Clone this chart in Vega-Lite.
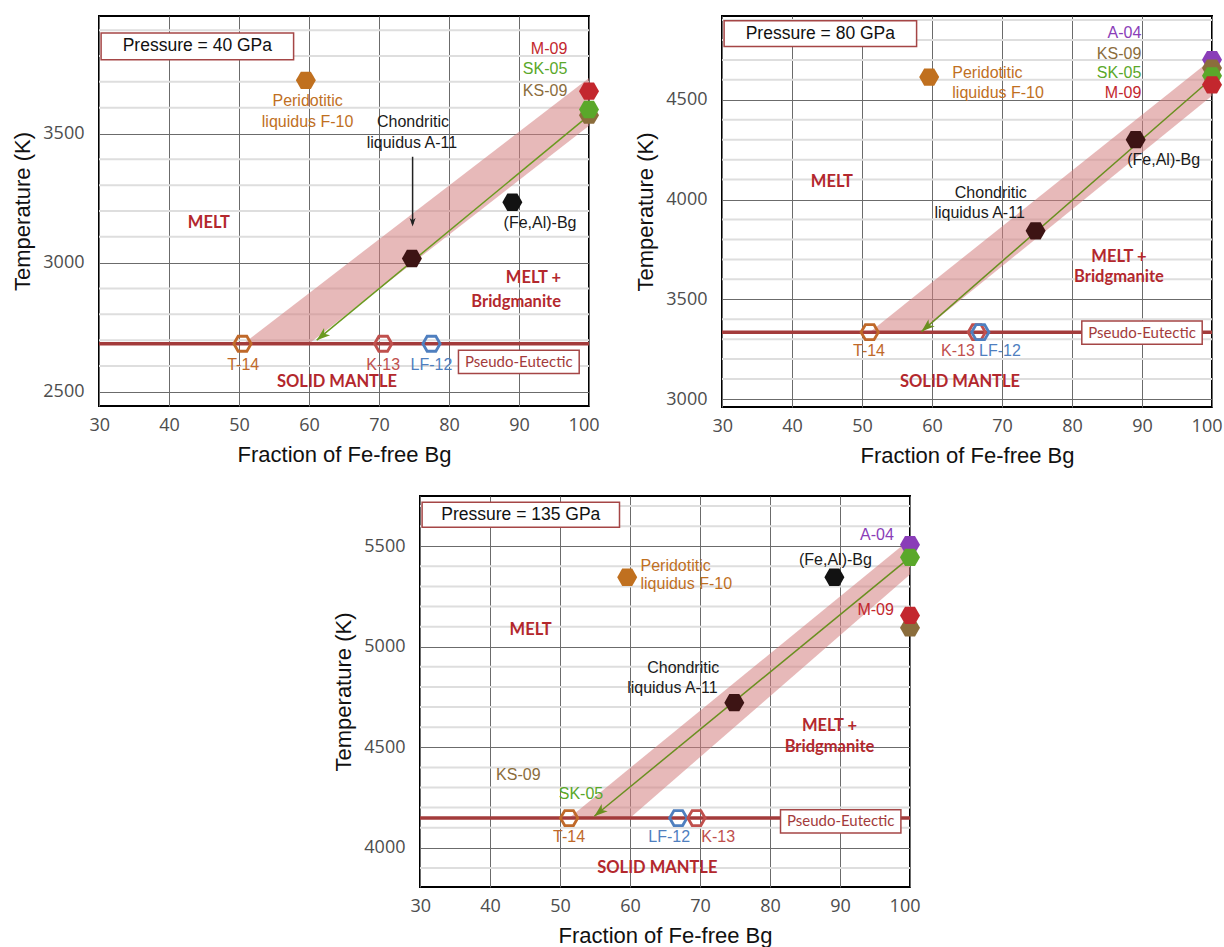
{
  "$schema": "https://vega.github.io/schema/vega-lite/v6.json",
  "background": "white",
  "padding": {"left": 10, "top": 15, "right": 0, "bottom": 0},
  "config": {
    "view": {"stroke": "#000000", "strokeWidth": 2},
    "axis": {"domain": false, "ticks": false, "grid": true, "gridColor": "#6b6b6b", "gridWidth": 1, "labelFont": "Open Sans", "labelFontSize": 18, "labelColor": "#4d4d4d", "titleFont": "Liberation Sans", "titleFontSize": 22, "titleFontWeight": "normal", "titleColor": "#111111", "format": "d"},
    "axisX": {"labelPadding": 10, "titlePadding": 10, "labelFlush": true, "labelFlushOffset": 10},
    "axisY": {"labelPadding": 15, "titlePadding": 8},
    "text": {"font": "Liberation Sans"}
  },
  "spacing": 28,
  "vconcat": [
    {
      "spacing": 33,
      "hconcat": [
        {
          "width": 490, "height": 390,
          "encoding": {
            "x": {"field": "x", "type": "quantitative", "scale": {"domain": [30, 100], "nice": false, "zero": false}, "axis": {"values": [30, 40, 50, 60, 70, 80, 90, 100], "title": "Fraction of Fe-free Bg"}},
            "y": {"field": "t", "type": "quantitative", "scale": {"domain": [2445, 3955], "nice": false, "zero": false}, "axis": {"values": [2500, 3000, 3500], "title": "Temperature (K)"}}
          },
          "layer": [
            {"data": {"values": [{"t": 2600, "x": 30, "x2": 100}, {"t": 2700, "x": 30, "x2": 100}, {"t": 2800, "x": 30, "x2": 100}, {"t": 2900, "x": 30, "x2": 100}, {"t": 3100, "x": 30, "x2": 100}, {"t": 3200, "x": 30, "x2": 100}, {"t": 3300, "x": 30, "x2": 100}, {"t": 3400, "x": 30, "x2": 100}, {"t": 3600, "x": 30, "x2": 100}, {"t": 3700, "x": 30, "x2": 100}, {"t": 3800, "x": 30, "x2": 100}, {"t": 3900, "x": 30, "x2": 100}]},
             "mark": {"type": "rule", "color": "#dedede", "strokeWidth": 2},
             "encoding": {"x2": {"field": "x2"}}},
            {"data": {"values": [{"x": 50.6, "t": 2686, "t2": 2686}, {"x": 60, "t": 2882, "t2": 2686}, {"x": 100, "t": 3715, "t2": 3530}]},
             "mark": {"type": "area", "color": "#d47f7f", "opacity": 0.55},
             "encoding": {"y2": {"field": "t2"}}},
            {"data": {"values": [{"t": 2686, "x": 30, "x2": 100}]},
             "mark": {"type": "rule", "color": "#a33b3b", "strokeWidth": 3.6},
             "encoding": {"x2": {"field": "x2"}}},
            {"data": {"values": [{"x": 100, "t": 3570}, {"x": 61.1, "t": 2700}]},
             "mark": {"type": "line", "color": "#6a9a20", "strokeWidth": 1.5}},
            {"data": {"values": [{"x": 61.1, "t": 2700}]},
             "mark": {"type": "point", "shape": "M0,0L-0.6,1.7L0,1.25L0.6,1.7Z", "filled": true, "color": "#6a9a20", "opacity": 1, "size": 250, "angle": 230.5}},
            {"data": {"values": [{"x": 74.8, "t": 3410, "t2": 3150}]},
             "mark": {"type": "rule", "color": "#222222", "strokeWidth": 1.5},
             "encoding": {"y2": {"field": "t2"}}},
            {"data": {"values": [{"x": 74.8, "t": 3140}]},
             "mark": {"type": "point", "shape": "M0,0L-0.6,1.7L0,1.25L0.6,1.7Z", "filled": true, "color": "#222222", "opacity": 1, "size": 100, "angle": 180}},
            {"data": {"values": [{"x": 59.55, "t": 3706, "src": "F-10"}, {"x": 74.7, "t": 3016, "src": "A-11"}, {"x": 89.05, "t": 3234, "src": "FeAl"}, {"x": 100, "t": 3571, "src": "KS-09"}, {"x": 100, "t": 3593, "src": "SK-05"}, {"x": 100, "t": 3664, "src": "M-09"}]},
             "mark": {"type": "point", "shape": "M-1,0L-0.5,-0.866L0.5,-0.866L1,0L0.5,0.866L-0.5,0.866Z", "filled": true, "opacity": 1, "size": 400},
             "encoding": {"color": {"field": "src", "type": "nominal", "legend": null, "scale": {"domain": ["F-10", "A-11", "FeAl", "M-09", "SK-05", "KS-09", "A-04", "T-14", "K-13", "LF-12", "black"], "range": ["#c0701f", "#3d1414", "#121212", "#c3272e", "#5aa82a", "#8b6d3c", "#8a3db8", "#c0692a", "#c0504d", "#4f7fbf", "#1a1a1a"]}}}},
            {"data": {"values": [{"x": 50.5, "t": 2686, "src": "T-14"}, {"x": 70.6, "t": 2686, "src": "K-13"}, {"x": 77.5, "t": 2686, "src": "LF-12"}]},
             "mark": {"type": "point", "shape": "M-1,0L-0.5,-0.866L0.5,-0.866L1,0L0.5,0.866L-0.5,0.866Z", "filled": false, "opacity": 1, "size": 300, "strokeWidth": 2.8},
             "encoding": {"color": {"field": "src", "type": "nominal", "legend": null, "scale": {"domain": ["F-10", "A-11", "FeAl", "M-09", "SK-05", "KS-09", "A-04", "T-14", "K-13", "LF-12", "black"], "range": ["#c0701f", "#3d1414", "#121212", "#c3272e", "#5aa82a", "#8b6d3c", "#8a3db8", "#c0692a", "#c0504d", "#4f7fbf", "#1a1a1a"]}}}},
            {"data": {"values": [{"x": 50.6, "t": 2605, "label": "T-14", "src": "T-14"}, {"x": 70.6, "t": 2605, "label": "K-13", "src": "K-13"}, {"x": 77.5, "t": 2605, "label": "LF-12", "src": "LF-12"}, {"x": 59.8, "t": 3626, "label": "Peridotitic", "src": "F-10"}, {"x": 59.8, "t": 3545, "label": "liquidus F-10", "src": "F-10"}, {"x": 74.85, "t": 3545, "label": "Chondritic", "src": "black"}, {"x": 74.7, "t": 3464, "label": "liquidus A-11", "src": "black"}, {"x": 93.0, "t": 3152, "label": "(Fe,Al)-Bg", "src": "black"}]},
             "mark": {"type": "text", "fontSize": 16, "align": "center", "baseline": "middle"},
             "encoding": {"text": {"field": "label"}, "color": {"field": "src", "type": "nominal", "legend": null, "scale": {"domain": ["F-10", "A-11", "FeAl", "M-09", "SK-05", "KS-09", "A-04", "T-14", "K-13", "LF-12", "black"], "range": ["#c0701f", "#3d1414", "#121212", "#c3272e", "#5aa82a", "#8b6d3c", "#8a3db8", "#c0692a", "#c0504d", "#4f7fbf", "#1a1a1a"]}}}},
            {"data": {"values": [{"x": 96.9, "t": 3829, "label": "M-09", "src": "M-09"}, {"x": 96.9, "t": 3748, "label": "SK-05", "src": "SK-05"}, {"x": 96.9, "t": 3664, "label": "KS-09", "src": "KS-09"}]},
             "mark": {"type": "text", "fontSize": 16, "align": "right", "baseline": "middle"},
             "encoding": {"text": {"field": "label"}, "color": {"field": "src", "type": "nominal", "legend": null, "scale": {"domain": ["F-10", "A-11", "FeAl", "M-09", "SK-05", "KS-09", "A-04", "T-14", "K-13", "LF-12", "black"], "range": ["#c0701f", "#3d1414", "#121212", "#c3272e", "#5aa82a", "#8b6d3c", "#8a3db8", "#c0692a", "#c0504d", "#4f7fbf", "#1a1a1a"]}}}},
            {"data": {"values": [{"x": 45.7, "t": 3152, "label": "MELT"}, {"x": 64.0, "t": 2538, "label": "SOLID MANTLE"}]},
             "mark": {"type": "text", "font": "Lato", "fontWeight": "bold", "fontSize": 16.5, "color": "#b3282d", "align": "center", "baseline": "middle"},
             "encoding": {"text": {"field": "label"}}},
            {"data": {"values": [{"x": 96.0, "t": 2939, "label": "MELT +"}, {"x": 96.0, "t": 2848, "label": "Bridgmanite"}]},
             "mark": {"type": "text", "font": "Lato", "fontWeight": "bold", "fontSize": 16.5, "color": "#b3282d", "align": "right", "baseline": "middle"},
             "encoding": {"text": {"field": "label"}}},
            {"data": {"values": [{"x": 30.3, "x2": 57.8, "t": 3889, "t2": 3786}]},
             "mark": {"type": "rect", "fill": "white", "stroke": "#a54646", "strokeWidth": 1.5},
             "encoding": {"x2": {"field": "x2"}, "y2": {"field": "t2"}}},
            {"data": {"values": [{"x": 81.35, "x2": 98.6, "t": 2661, "t2": 2571}]},
             "mark": {"type": "rect", "fill": "white", "stroke": "#a54646", "strokeWidth": 1.5},
             "encoding": {"x2": {"field": "x2"}, "y2": {"field": "t2"}}},
            {"data": {"values": [{"x": 44.05, "t": 3837, "label": "Pressure = 40 GPa"}]},
             "mark": {"type": "text", "fontSize": 17.5, "color": "#111111", "align": "center", "baseline": "middle"},
             "encoding": {"text": {"field": "label"}}},
            {"data": {"values": [{"x": 89.97, "t": 2616, "label": "Pseudo-Eutectic"}]},
             "mark": {"type": "text", "font": "Lato", "fontSize": 15, "color": "#a33b3b", "align": "center", "baseline": "middle"},
             "encoding": {"text": {"field": "label"}}}
          ]
        },
        {
          "width": 490, "height": 391,
          "encoding": {
            "x": {"field": "x", "type": "quantitative", "scale": {"domain": [30, 100], "nice": false, "zero": false}, "axis": {"values": [30, 40, 50, 60, 70, 80, 90, 100], "title": "Fraction of Fe-free Bg"}},
            "y": {"field": "t", "type": "quantitative", "scale": {"domain": [2960, 4920], "nice": false, "zero": false}, "axis": {"values": [3000, 3500, 4000, 4500], "title": "Temperature (K)"}}
          },
          "layer": [
            {"data": {"values": [{"t": 3100, "x": 30, "x2": 100}, {"t": 3200, "x": 30, "x2": 100}, {"t": 3300, "x": 30, "x2": 100}, {"t": 3400, "x": 30, "x2": 100}, {"t": 3600, "x": 30, "x2": 100}, {"t": 3700, "x": 30, "x2": 100}, {"t": 3800, "x": 30, "x2": 100}, {"t": 3900, "x": 30, "x2": 100}, {"t": 4100, "x": 30, "x2": 100}, {"t": 4200, "x": 30, "x2": 100}, {"t": 4300, "x": 30, "x2": 100}, {"t": 4400, "x": 30, "x2": 100}, {"t": 4600, "x": 30, "x2": 100}, {"t": 4700, "x": 30, "x2": 100}, {"t": 4800, "x": 30, "x2": 100}, {"t": 4900, "x": 30, "x2": 100}]},
             "mark": {"type": "rule", "color": "#dedede", "strokeWidth": 2},
             "encoding": {"x2": {"field": "x2"}}},
            {"data": {"values": [{"x": 51.1, "t": 3335, "t2": 3335}, {"x": 58.4, "t": 3540, "t2": 3335}, {"x": 100, "t": 4705, "t2": 4520}]},
             "mark": {"type": "area", "color": "#d47f7f", "opacity": 0.55},
             "encoding": {"y2": {"field": "t2"}}},
            {"data": {"values": [{"t": 3335, "x": 30, "x2": 100}]},
             "mark": {"type": "rule", "color": "#a33b3b", "strokeWidth": 3.6},
             "encoding": {"x2": {"field": "x2"}}},
            {"data": {"values": [{"x": 100, "t": 4608}, {"x": 58.5, "t": 3338}]},
             "mark": {"type": "line", "color": "#6a8f20", "strokeWidth": 1.5}},
            {"data": {"values": [{"x": 58.5, "t": 3338}]},
             "mark": {"type": "point", "shape": "M0,0L-0.6,1.7L0,1.25L0.6,1.7Z", "filled": true, "color": "#6a8f20", "opacity": 1, "size": 250, "angle": 228.9}},
            {"data": {"values": [{"x": 59.6, "t": 4614, "src": "F-10"}, {"x": 74.8, "t": 3843, "src": "A-11"}, {"x": 89.1, "t": 4300, "src": "A-11"}, {"x": 100, "t": 4701, "src": "A-04"}, {"x": 100, "t": 4659, "src": "KS-09"}, {"x": 100, "t": 4620, "src": "SK-05"}, {"x": 100, "t": 4575, "src": "M-09"}]},
             "mark": {"type": "point", "shape": "M-1,0L-0.5,-0.866L0.5,-0.866L1,0L0.5,0.866L-0.5,0.866Z", "filled": true, "opacity": 1, "size": 400},
             "encoding": {"color": {"field": "src", "type": "nominal", "legend": null, "scale": {"domain": ["F-10", "A-11", "FeAl", "M-09", "SK-05", "KS-09", "A-04", "T-14", "K-13", "LF-12", "black"], "range": ["#c0701f", "#3d1414", "#121212", "#c3272e", "#5aa82a", "#8b6d3c", "#8a3db8", "#c0692a", "#c0504d", "#4f7fbf", "#1a1a1a"]}}}},
            {"data": {"values": [{"x": 51.1, "t": 3335, "src": "T-14"}, {"x": 66.4, "t": 3335, "src": "K-13"}, {"x": 66.9, "t": 3335, "src": "LF-12"}]},
             "mark": {"type": "point", "shape": "M-1,0L-0.5,-0.866L0.5,-0.866L1,0L0.5,0.866L-0.5,0.866Z", "filled": false, "opacity": 1, "size": 300, "strokeWidth": 2.8},
             "encoding": {"color": {"field": "src", "type": "nominal", "legend": null, "scale": {"domain": ["F-10", "A-11", "FeAl", "M-09", "SK-05", "KS-09", "A-04", "T-14", "K-13", "LF-12", "black"], "range": ["#c0701f", "#3d1414", "#121212", "#c3272e", "#5aa82a", "#8b6d3c", "#8a3db8", "#c0692a", "#c0504d", "#4f7fbf", "#1a1a1a"]}}}},
            {"data": {"values": [{"x": 51.0, "t": 3242, "label": "T-14", "src": "T-14"}, {"x": 63.7, "t": 3242, "label": "K-13", "src": "K-13"}, {"x": 69.7, "t": 3242, "label": "LF-12", "src": "LF-12"}, {"x": 68.4, "t": 4032, "label": "Chondritic", "src": "black"}, {"x": 66.8, "t": 3934, "label": "liquidus A-11", "src": "black"}, {"x": 93.1, "t": 4199, "label": "(Fe,Al)-Bg", "src": "black"}]},
             "mark": {"type": "text", "fontSize": 16, "align": "center", "baseline": "middle"},
             "encoding": {"text": {"field": "label"}, "color": {"field": "src", "type": "nominal", "legend": null, "scale": {"domain": ["F-10", "A-11", "FeAl", "M-09", "SK-05", "KS-09", "A-04", "T-14", "K-13", "LF-12", "black"], "range": ["#c0701f", "#3d1414", "#121212", "#c3272e", "#5aa82a", "#8b6d3c", "#8a3db8", "#c0692a", "#c0504d", "#4f7fbf", "#1a1a1a"]}}}},
            {"data": {"values": [{"x": 89.9, "t": 4834, "label": "A-04", "src": "A-04"}, {"x": 89.9, "t": 4728, "label": "KS-09", "src": "KS-09"}, {"x": 89.9, "t": 4634, "label": "SK-05", "src": "SK-05"}, {"x": 89.9, "t": 4534, "label": "M-09", "src": "M-09"}]},
             "mark": {"type": "text", "fontSize": 16, "align": "right", "baseline": "middle"},
             "encoding": {"text": {"field": "label"}, "color": {"field": "src", "type": "nominal", "legend": null, "scale": {"domain": ["F-10", "A-11", "FeAl", "M-09", "SK-05", "KS-09", "A-04", "T-14", "K-13", "LF-12", "black"], "range": ["#c0701f", "#3d1414", "#121212", "#c3272e", "#5aa82a", "#8b6d3c", "#8a3db8", "#c0692a", "#c0504d", "#4f7fbf", "#1a1a1a"]}}}},
            {"data": {"values": [{"x": 62.9, "t": 4634, "label": "Peridotitic", "src": "F-10"}, {"x": 62.9, "t": 4534, "label": "liquidus F-10", "src": "F-10"}]},
             "mark": {"type": "text", "fontSize": 16, "align": "left", "baseline": "middle"},
             "encoding": {"text": {"field": "label"}, "color": {"field": "src", "type": "nominal", "legend": null, "scale": {"domain": ["F-10", "A-11", "FeAl", "M-09", "SK-05", "KS-09", "A-04", "T-14", "K-13", "LF-12", "black"], "range": ["#c0701f", "#3d1414", "#121212", "#c3272e", "#5aa82a", "#8b6d3c", "#8a3db8", "#c0692a", "#c0504d", "#4f7fbf", "#1a1a1a"]}}}},
            {"data": {"values": [{"x": 45.7, "t": 4087, "label": "MELT"}, {"x": 86.7, "t": 3714, "label": "MELT +"}, {"x": 86.7, "t": 3610, "label": "Bridgmanite"}, {"x": 64.0, "t": 3084, "label": "SOLID MANTLE"}]},
             "mark": {"type": "text", "font": "Lato", "fontWeight": "bold", "fontSize": 16.5, "color": "#b3282d", "align": "center", "baseline": "middle"},
             "encoding": {"text": {"field": "label"}}},
            {"data": {"values": [{"x": 30.3, "x2": 57.8, "t": 4896, "t2": 4767}]},
             "mark": {"type": "rect", "fill": "white", "stroke": "#a54646", "strokeWidth": 1.5},
             "encoding": {"x2": {"field": "x2"}, "y2": {"field": "t2"}}},
            {"data": {"values": [{"x": 81.4, "x2": 98.6, "t": 3391, "t2": 3274}]},
             "mark": {"type": "rect", "fill": "white", "stroke": "#a54646", "strokeWidth": 1.5},
             "encoding": {"x2": {"field": "x2"}, "y2": {"field": "t2"}}},
            {"data": {"values": [{"x": 44.05, "t": 4831, "label": "Pressure = 80 GPa"}]},
             "mark": {"type": "text", "fontSize": 17.5, "color": "#111111", "align": "center", "baseline": "middle"},
             "encoding": {"text": {"field": "label"}}},
            {"data": {"values": [{"x": 90.0, "t": 3332, "label": "Pseudo-Eutectic"}]},
             "mark": {"type": "text", "font": "Lato", "fontSize": 15, "color": "#a33b3b", "align": "center", "baseline": "middle"},
             "encoding": {"text": {"field": "label"}}}
          ]
        }
      ]
    },
    {
      "spacing": 0,
      "hconcat": [
        {
          "width": 232, "height": 10,
          "view": {"stroke": null},
          "data": {"values": [{"note": ""}]},
          "mark": {"type": "text", "text": ""},
          "encoding": {}
        },
        {
          "width": 490, "height": 391,
          "encoding": {
            "x": {"field": "x", "type": "quantitative", "scale": {"domain": [30, 100], "nice": false, "zero": false}, "axis": {"values": [30, 40, 50, 60, 70, 80, 90, 100], "title": "Fraction of Fe-free Bg"}},
            "y": {"field": "t", "type": "quantitative", "scale": {"domain": [3805, 5750], "nice": false, "zero": false}, "axis": {"values": [4000, 4500, 5000, 5500], "title": "Temperature (K)"}}
          },
          "layer": [
            {"data": {"values": [{"t": 3900, "x": 30, "x2": 100}, {"t": 4100, "x": 30, "x2": 100}, {"t": 4200, "x": 30, "x2": 100}, {"t": 4300, "x": 30, "x2": 100}, {"t": 4400, "x": 30, "x2": 100}, {"t": 4600, "x": 30, "x2": 100}, {"t": 4700, "x": 30, "x2": 100}, {"t": 4800, "x": 30, "x2": 100}, {"t": 4900, "x": 30, "x2": 100}, {"t": 5100, "x": 30, "x2": 100}, {"t": 5200, "x": 30, "x2": 100}, {"t": 5300, "x": 30, "x2": 100}, {"t": 5400, "x": 30, "x2": 100}, {"t": 5600, "x": 30, "x2": 100}, {"t": 5700, "x": 30, "x2": 100}]},
             "mark": {"type": "rule", "color": "#dedede", "strokeWidth": 2},
             "encoding": {"x2": {"field": "x2"}}},
            {"data": {"values": [{"x": 51.3, "t": 4148, "t2": 4148}, {"x": 60, "t": 4397, "t2": 4148}, {"x": 100, "t": 5535, "t2": 5360}]},
             "mark": {"type": "area", "color": "#d47f7f", "opacity": 0.55},
             "encoding": {"y2": {"field": "t2"}}},
            {"data": {"values": [{"t": 4148, "x": 30, "x2": 100}]},
             "mark": {"type": "rule", "color": "#a33b3b", "strokeWidth": 3.6},
             "encoding": {"x2": {"field": "x2"}}},
            {"data": {"values": [{"x": 100, "t": 5445}, {"x": 54.9, "t": 4157}]},
             "mark": {"type": "line", "color": "#6a8f20", "strokeWidth": 1.5}},
            {"data": {"values": [{"x": 54.9, "t": 4157}]},
             "mark": {"type": "point", "shape": "M0,0L-0.6,1.7L0,1.25L0.6,1.7Z", "filled": true, "color": "#6a8f20", "opacity": 1, "size": 250, "angle": 230.6}},
            {"data": {"values": [{"x": 59.6, "t": 5346, "src": "F-10"}, {"x": 89.2, "t": 5346, "src": "FeAl"}, {"x": 74.9, "t": 4722, "src": "A-11"}, {"x": 100, "t": 5508, "src": "A-04"}, {"x": 100, "t": 5445, "src": "SK-05"}, {"x": 100, "t": 5094, "src": "KS-09"}, {"x": 100, "t": 5156, "src": "M-09"}]},
             "mark": {"type": "point", "shape": "M-1,0L-0.5,-0.866L0.5,-0.866L1,0L0.5,0.866L-0.5,0.866Z", "filled": true, "opacity": 1, "size": 400},
             "encoding": {"color": {"field": "src", "type": "nominal", "legend": null, "scale": {"domain": ["F-10", "A-11", "FeAl", "M-09", "SK-05", "KS-09", "A-04", "T-14", "K-13", "LF-12", "black"], "range": ["#c0701f", "#3d1414", "#121212", "#c3272e", "#5aa82a", "#8b6d3c", "#8a3db8", "#c0692a", "#c0504d", "#4f7fbf", "#1a1a1a"]}}}},
            {"data": {"values": [{"x": 51.3, "t": 4148, "src": "T-14"}, {"x": 66.9, "t": 4148, "src": "LF-12"}, {"x": 69.5, "t": 4148, "src": "K-13"}]},
             "mark": {"type": "point", "shape": "M-1,0L-0.5,-0.866L0.5,-0.866L1,0L0.5,0.866L-0.5,0.866Z", "filled": false, "opacity": 1, "size": 300, "strokeWidth": 2.8},
             "encoding": {"color": {"field": "src", "type": "nominal", "legend": null, "scale": {"domain": ["F-10", "A-11", "FeAl", "M-09", "SK-05", "KS-09", "A-04", "T-14", "K-13", "LF-12", "black"], "range": ["#c0701f", "#3d1414", "#121212", "#c3272e", "#5aa82a", "#8b6d3c", "#8a3db8", "#c0692a", "#c0504d", "#4f7fbf", "#1a1a1a"]}}}},
            {"data": {"values": [{"x": 51.3, "t": 4053, "label": "T-14", "src": "T-14"}, {"x": 65.6, "t": 4053, "label": "LF-12", "src": "LF-12"}, {"x": 72.6, "t": 4053, "label": "K-13", "src": "K-13"}, {"x": 67.6, "t": 4896, "label": "Chondritic", "src": "black"}, {"x": 66.05, "t": 4796, "label": "liquidus A-11", "src": "black"}, {"x": 89.35, "t": 5434, "label": "(Fe,Al)-Bg", "src": "black"}, {"x": 44.05, "t": 4361, "label": "KS-09", "src": "KS-09"}, {"x": 53.0, "t": 4267, "label": "SK-05", "src": "SK-05"}]},
             "mark": {"type": "text", "fontSize": 16, "align": "center", "baseline": "middle"},
             "encoding": {"text": {"field": "label"}, "color": {"field": "src", "type": "nominal", "legend": null, "scale": {"domain": ["F-10", "A-11", "FeAl", "M-09", "SK-05", "KS-09", "A-04", "T-14", "K-13", "LF-12", "black"], "range": ["#c0701f", "#3d1414", "#121212", "#c3272e", "#5aa82a", "#8b6d3c", "#8a3db8", "#c0692a", "#c0504d", "#4f7fbf", "#1a1a1a"]}}}},
            {"data": {"values": [{"x": 97.7, "t": 5555, "label": "A-04", "src": "A-04"}, {"x": 97.7, "t": 5181, "label": "M-09", "src": "M-09"}]},
             "mark": {"type": "text", "fontSize": 16, "align": "right", "baseline": "middle"},
             "encoding": {"text": {"field": "label"}, "color": {"field": "src", "type": "nominal", "legend": null, "scale": {"domain": ["F-10", "A-11", "FeAl", "M-09", "SK-05", "KS-09", "A-04", "T-14", "K-13", "LF-12", "black"], "range": ["#c0701f", "#3d1414", "#121212", "#c3272e", "#5aa82a", "#8b6d3c", "#8a3db8", "#c0692a", "#c0504d", "#4f7fbf", "#1a1a1a"]}}}},
            {"data": {"values": [{"x": 61.5, "t": 5404, "label": "Peridotitic", "src": "F-10"}, {"x": 61.5, "t": 5310, "label": "liquidus F-10", "src": "F-10"}]},
             "mark": {"type": "text", "fontSize": 16, "align": "left", "baseline": "middle"},
             "encoding": {"text": {"field": "label"}, "color": {"field": "src", "type": "nominal", "legend": null, "scale": {"domain": ["F-10", "A-11", "FeAl", "M-09", "SK-05", "KS-09", "A-04", "T-14", "K-13", "LF-12", "black"], "range": ["#c0701f", "#3d1414", "#121212", "#c3272e", "#5aa82a", "#8b6d3c", "#8a3db8", "#c0692a", "#c0504d", "#4f7fbf", "#1a1a1a"]}}}},
            {"data": {"values": [{"x": 45.8, "t": 5081, "label": "MELT"}, {"x": 88.5, "t": 4606, "label": "MELT +"}, {"x": 88.5, "t": 4503, "label": "Bridgmanite"}, {"x": 63.9, "t": 3902, "label": "SOLID MANTLE"}]},
             "mark": {"type": "text", "font": "Lato", "fontWeight": "bold", "fontSize": 16.5, "color": "#b3282d", "align": "center", "baseline": "middle"},
             "encoding": {"text": {"field": "label"}}},
            {"data": {"values": [{"x": 30.3, "x2": 58.5, "t": 5719, "t2": 5594}]},
             "mark": {"type": "rect", "fill": "white", "stroke": "#a54646", "strokeWidth": 1.5},
             "encoding": {"x2": {"field": "x2"}, "y2": {"field": "t2"}}},
            {"data": {"values": [{"x": 81.5, "x2": 98.7, "t": 4189, "t2": 4073}]},
             "mark": {"type": "rect", "fill": "white", "stroke": "#a54646", "strokeWidth": 1.5},
             "encoding": {"x2": {"field": "x2"}, "y2": {"field": "t2"}}},
            {"data": {"values": [{"x": 44.4, "t": 5656, "label": "Pressure = 135 GPa"}]},
             "mark": {"type": "text", "fontSize": 17.5, "color": "#111111", "align": "center", "baseline": "middle"},
             "encoding": {"text": {"field": "label"}}},
            {"data": {"values": [{"x": 90.1, "t": 4131, "label": "Pseudo-Eutectic"}]},
             "mark": {"type": "text", "font": "Lato", "fontSize": 15, "color": "#a33b3b", "align": "center", "baseline": "middle"},
             "encoding": {"text": {"field": "label"}}}
          ]
        }
      ]
    }
  ]
}
